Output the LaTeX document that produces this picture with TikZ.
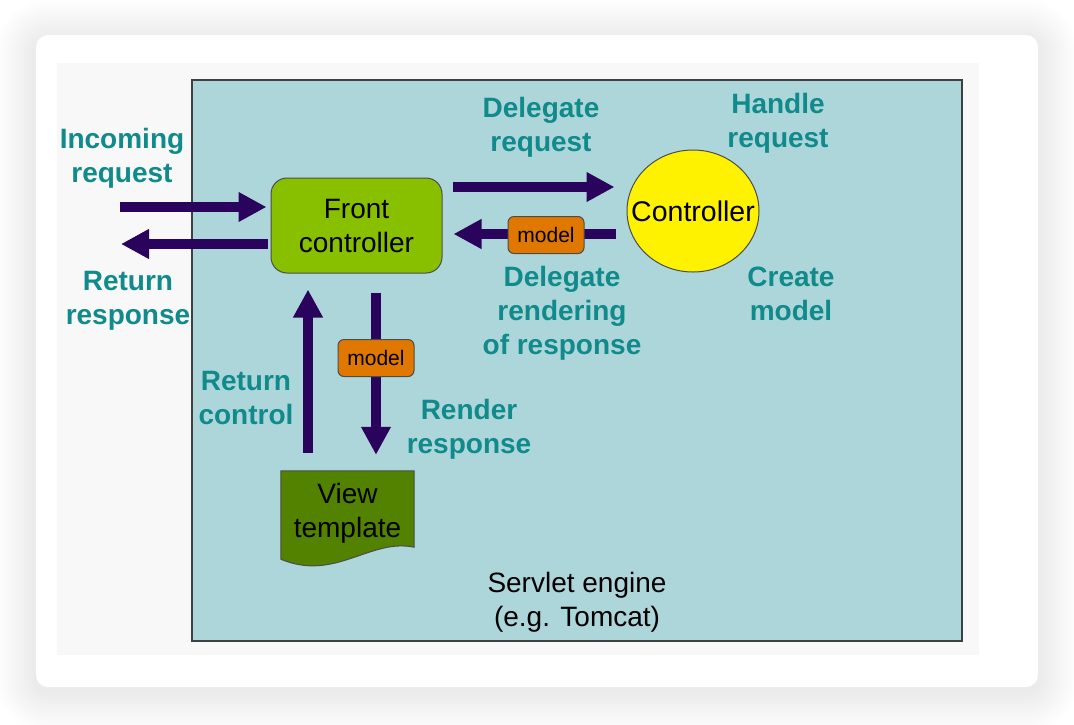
\documentclass[tikz,border=0pt]{standalone}
\usepackage{fontspec}
\setmainfont{Liberation Sans}
\usetikzlibrary{arrows.meta,shapes.geometric}

\definecolor{tealtext}{RGB}{16,138,138}
\definecolor{flowcol}{RGB}{42,4,92}
\definecolor{enginebg}{RGB}{173,214,218}
\definecolor{frontgreen}{RGB}{136,192,0}
\definecolor{viewgreen}{RGB}{82,130,0}
\definecolor{modelorange}{RGB}{224,120,0}
\definecolor{innergrey}{RGB}{248,248,248}

\tikzset{
  flow/.style={draw=flowcol, line width=10pt, -{Triangle[length=28pt,width=28pt]}},
  tag/.style={font=\fontsize{28}{34}\selectfont\bfseries, text=tealtext, align=center},
  modelbox/.style={draw=black!70, fill=modelorange, rounded corners=6pt, line width=1pt,
    minimum width=76pt, minimum height=37pt, inner sep=0pt, font=\fontsize{21}{25}\selectfont},
}

\begin{document}
\begin{tikzpicture}[x=1pt,y=-1pt]

\useasboundingbox (0,0) rectangle (1074,724);
\fill[white] (0,0) rectangle (1074,724);

% card with soft shadow
\foreach \i in {2,4,...,40} {
  \fill[black, opacity=0.005, rounded corners=12pt+\i pt]
    (36-\i,40-\i) rectangle (1038+\i,692+\i);
}
\fill[white, rounded corners=12pt] (36,35) rectangle (1038,687);
\fill[innergrey] (57,63) rectangle (979,655);

% servlet engine
\draw[fill=enginebg, draw=black!75, line width=1.5pt] (192,80) rectangle (962,641);
\node[align=center, font=\fontsize{28}{34}\selectfont] (engine) at (577,602)
  {Servlet engine\\(e.g. Tomcat)};

% the nodes
\node[draw=black!70, fill=frontgreen, rounded corners=16pt, line width=1pt,
  minimum width=171pt, minimum height=95pt, align=center,
  font=\fontsize{28}{34}\selectfont] (front) at (356.5,225.5) {Front\\controller};
\node[ellipse, draw=black!70, fill=yellow, line width=1pt, inner sep=0pt,
  minimum width=132pt, minimum height=122pt] (ctrl) at (693,211) {};
\node[font=\fontsize{28.5}{34}\selectfont, inner sep=0pt] at (ctrl) {Controller};
\node[minimum width=133pt, minimum height=76pt] (view) at (347.5,509) {};
\fill[viewgreen, draw=black!70, line width=1pt] (view.north west) -- (view.north east)
  -- (view.south east) .. controls (370,538) and (335,582) .. ([yshift=-12pt]view.south west) -- cycle;
\node[align=center, font=\fontsize{28}{34}\selectfont] at ([yshift=-4pt]view.center) {View\\template};

% arrows
\coordinate (inc) at (120,207);
\coordinate (ret) at (121,244);
\coordinate (dlg) at (0,187);
\coordinate (back) at (0,234);
\coordinate (rc) at (308,0);
\coordinate (rr) at (376,0);

\draw[flow, shorten >=4pt] (inc) -- (inc -| front.west);
\draw[flow, shorten <=3pt] (ret -| front.west) -- (ret);
\draw[flow, shorten <=10pt, shorten >=12pt] (dlg -| front.east) -- (dlg -| ctrl.west);
\draw[flow, shorten <=11pt, shorten >=11pt] (back -| ctrl.west) -- (back -| front.east);
\draw[flow, shorten <=18pt, shorten >=16pt] (rc |- view.north) -- (rc |- front.south);
\draw[flow, shorten <=19pt, shorten >=16pt] (rr |- front.south) -- (rr |- view.north);

\node[modelbox] (model1) at (546,235) {model};
\node[modelbox] (model2) at (376,358) {model};

% labels
\node[tag] (incoming) at (122,158) {Incoming\\request};
\node[tag] (response) at (128,301) {Return\\response};
\node[tag] (delegate) at (541,127) {Delegate\\request};
\node[tag] (handle) at (778,123) {Handle\\request};
\node[tag] (rendering) at (562,313) {Delegate\\rendering\\of response};
\node[tag] (create) at (791,294) {Create\\model};
\node[tag] (control) at (246,398) {Return\\control};
\node[tag] (render) at (469,429) {Render\\response};

\end{tikzpicture}
\end{document}
